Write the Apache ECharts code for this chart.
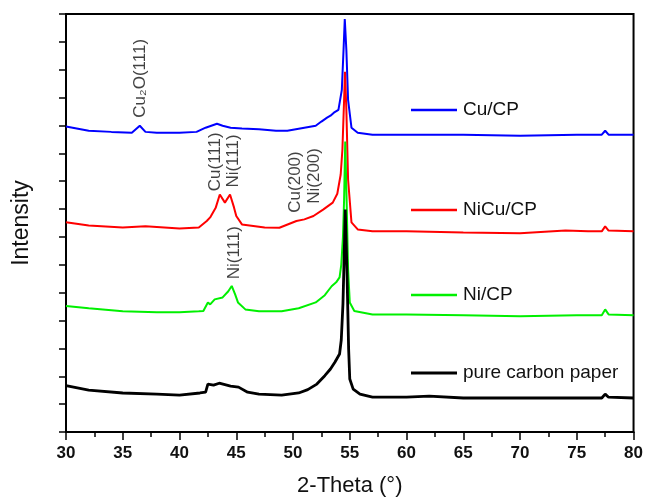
<!doctype html>
<html>
<head>
    <meta charset="UTF-8">
    <title>XRD</title>
    <script src="https://cdn.jsdelivr.net/npm/echarts@6/dist/echarts.min.js"></script>
</head>
<body style="margin:0;background:#fff">
<div id="main" style="width:646px;height:502px"></div>
<script type="text/javascript">
    // 2-theta positions and intensities (arbitrary offsets per curve)
    var xCu = [30, 32, 34, 35.8, 36.5, 37, 38, 40, 41.5, 42.3, 42.8, 43.3, 43.8, 44.5, 45.5, 47, 48.5, 49.5, 51, 52, 52.5, 53, 53.3, 53.6, 54, 54.3, 54.45, 54.56, 54.7, 54.85, 55.15, 55.7, 57, 60, 65, 70, 75, 77.2, 77.5, 77.8, 80];
    var yCu = [10.96, 10.81, 10.77, 10.74, 10.99, 10.77, 10.74, 10.74, 10.77, 10.92, 10.99, 11.06, 10.99, 10.92, 10.89, 10.86, 10.81, 10.81, 10.92, 10.99, 11.14, 11.28, 11.35, 11.46, 11.56, 12.28, 13.71, 14.82, 13.71, 11.92, 10.92, 10.74, 10.67, 10.67, 10.67, 10.63, 10.67, 10.67, 10.81, 10.67, 10.67];

    var xNiCu = [30, 32, 35, 37, 40, 41.7, 42.4, 42.7, 43.2, 43.55, 44, 44.45, 44.8, 45, 45.5, 47.5, 48.8, 50.3, 51, 51.8, 52.65, 53.5, 53.9, 54.2, 54.35, 54.5, 54.58, 54.7, 54.85, 55.15, 55.7, 57, 60, 65, 70, 74, 76, 77.2, 77.5, 77.8, 80];
    var yNiCu = [7.53, 7.41, 7.34, 7.38, 7.30, 7.34, 7.57, 7.70, 8.06, 8.52, 8.23, 8.52, 8.06, 7.75, 7.45, 7.34, 7.33, 7.57, 7.63, 7.75, 7.98, 8.23, 8.55, 9.24, 10.13, 11.92, 12.93, 11.56, 9.06, 7.52, 7.27, 7.20, 7.20, 7.16, 7.13, 7.23, 7.20, 7.20, 7.38, 7.23, 7.20];

    var xNi = [30, 32, 35, 38, 40, 41.7, 42.1, 42.5, 42.7, 43.1, 43.8, 44.3, 44.6, 44.9, 45.15, 45.8, 47, 49, 50.5, 52, 52.8, 53.4, 53.8, 54.1, 54.25, 54.4, 54.5, 54.6, 54.72, 54.85, 55, 55.4, 57, 60, 65, 70, 75, 77.2, 77.5, 77.8, 80];
    var yNi = [4.52, 4.44, 4.33, 4.30, 4.30, 4.33, 4.34, 4.65, 4.58, 4.76, 4.83, 5.05, 5.24, 4.94, 4.65, 4.40, 4.33, 4.33, 4.44, 4.65, 4.91, 5.23, 5.37, 5.55, 6.0, 7.0, 8.34, 10.42, 8.34, 5.84, 4.65, 4.34, 4.22, 4.22, 4.19, 4.15, 4.19, 4.19, 4.40, 4.22, 4.19];

    var xCP = [30, 32, 35, 38, 40, 41.8, 42.3, 42.5, 43, 43.5, 44.5, 45.2, 46, 47, 49, 50.5, 51.3, 52.1, 52.8, 53.3, 53.7, 54.1, 54.25, 54.4, 54.5, 54.6, 54.75, 54.9, 55, 55.3, 55.9, 57, 60, 62, 65, 70, 75, 77.2, 77.5, 77.8, 80];
    var yCP = [1.66, 1.50, 1.40, 1.36, 1.32, 1.40, 1.43, 1.72, 1.68, 1.75, 1.65, 1.61, 1.43, 1.36, 1.32, 1.40, 1.52, 1.72, 2.02, 2.26, 2.51, 2.80, 3.3, 4.6, 6.19, 7.98, 5.84, 2.97, 1.90, 1.54, 1.36, 1.25, 1.25, 1.29, 1.22, 1.22, 1.22, 1.22, 1.36, 1.25, 1.22];

    var seriesNames = ['Cu/CP', 'NiCu/CP', 'Ni/CP', 'pure carbon paper'];
    var seriesColors = ['#0000ff', '#ff0000', '#00f000', '#000000'];

    // peak labels: text, 2-theta, intensity at the lower end of the text
    var peakText = ['Cu\u2082O(111)', 'Cu(111)', 'Ni(111)', 'Cu(200)', 'Ni(200)', 'Ni(111)'];
    var peakX = [36.56, 43.17, 44.73, 50.2, 51.9, 44.82];
    var peakY = [11.28, 8.64, 8.77, 7.87, 8.19, 5.48];

    function zip(xs, ys) {
        var out = [];
        for (var i = 0; i < xs.length; i++) {
            out.push([xs[i], ys[i]]);
        }
        return out;
    }

    var font = "'Liberation Sans', Arial, sans-serif";
    var myChart = echarts.init(document.getElementById('main'));

    var allX = [xCu, xNiCu, xNi, xCP];
    var allY = [yCu, yNiCu, yNi, yCP];
    var series = [];
    for (var s = 0; s < 4; s++) {
        series.push({
            name: seriesNames[s],
            type: 'line',
            symbol: 'none',
            data: zip(allX[s], allY[s]),
            lineStyle: {color: seriesColors[s], width: s == 3 ? 2.8 : 2},
            itemStyle: {color: seriesColors[s]},
            z: 2 + s
        });
    }

    var labelData = [];
    for (var k = 0; k < peakText.length; k++) {
        labelData.push({value: [peakX[k], peakY[k]], name: peakText[k]});
    }
    series.push({
        type: 'scatter',
        symbolSize: 0,
        silent: true,
        data: labelData,
        label: {
            show: true,
            position: 'inside',
            rotate: 90,
            align: 'left',
            verticalAlign: 'middle',
            formatter: '{b}',
            fontFamily: font,
            fontSize: 17,
            color: '#111'
        },
        z: 10
    });

    // one legend per item so they can sit at the uneven heights of the original
    var legendTops = [100, 200, 285, 363];
    var legends = [];
    for (var j = 0; j < 4; j++) {
        legends.push({
            data: [seriesNames[j]],
            left: 411,
            top: legendTops[j],
            padding: 0,
            icon: 'rect',
            itemWidth: 46,
            itemHeight: j == 3 ? 3 : 2.5,
            itemGap: 0,
            selectedMode: false,
            textStyle: {fontFamily: font, fontSize: 19, color: '#111', lineHeight: 20, padding: [0, 0, 0, 1]}
        });
    }

    var option = {
        backgroundColor: '#fff',
        animation: false,
        legend: legends,
        grid: {
            left: 66, right: 12, top: 14, bottom: 69,
            show: true,
            borderColor: '#000',
            borderWidth: 2
        },
        xAxis: {
            type: 'value',
            min: 30, max: 80, interval: 5,
            name: '2-Theta (\u00b0)',
            nameLocation: 'middle',
            nameGap: 43,
            nameTextStyle: {fontFamily: font, fontSize: 22, color: '#111'},
            axisLine: {lineStyle: {color: '#000', width: 2}},
            axisTick: {length: 8, lineStyle: {color: '#000', width: 1.5}},
            minorTick: {show: true, splitNumber: 2, length: 5, lineStyle: {color: '#000', width: 1.5}},
            axisLabel: {fontFamily: font, fontSize: 17, fontWeight: 'bold', color: '#111', margin: 13},
            splitLine: {show: false}
        },
        yAxis: {
            type: 'value',
            min: 0, max: 15, interval: 1,
            name: 'Intensity',
            nameLocation: 'middle',
            nameGap: 33,
            nameTextStyle: {fontFamily: font, fontSize: 23, color: '#111'},
            axisLine: {show: true, lineStyle: {color: '#000', width: 2}},
            axisTick: {show: true, length: 7, lineStyle: {color: '#000', width: 1.5}},
            axisLabel: {show: false},
            splitLine: {show: false}
        },
        series: series
    };
    myChart.setOption(option);
</script>
</body>
</html>
